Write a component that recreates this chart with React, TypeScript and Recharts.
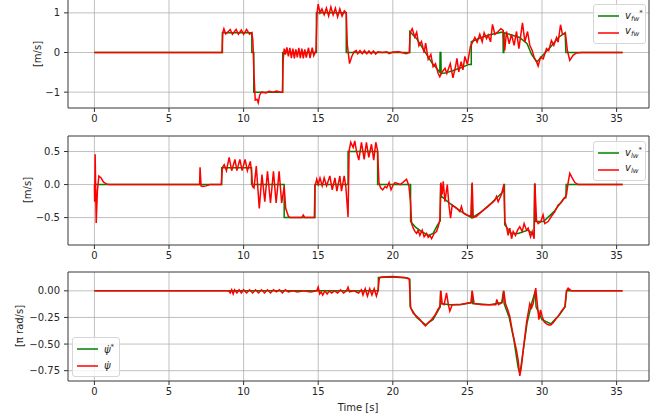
import React from "react";
import {
  CartesianGrid,
  Line,
  LineChart,
  ReferenceArea,
  XAxis,
  YAxis,
} from "recharts";

// time axis
const timeTicks = [0, 5, 10, 15, 20, 25, 30, 35];
const timeLimits: [number, number] = [-1.77, 37.17];

// forward velocity [t, v]
const fwRef: [number, number][] = [
  [0, 0], [8.58, 0], [8.58, 0.5], [10.55, 0.5], [10.55, 0], [10.68, 0], [10.68, -1], [12.62, -1],
  [12.62, 0], [14.88, 0], [14.88, 1], [16.88, 1], [16.88, 0], [21.14, 0], [21.14, 0.53], [21.6, 0.35],
  [22.1, 0.05], [22.6, -0.25], [23.15, -0.5], [23.17, 0], [23.22, 0], [23.24, -0.53], [23.5, -0.52],
  [24.0, -0.46], [24.6, -0.38], [25.1, -0.3], [25.26, -0.3], [25.26, 0.27], [25.8, 0.36], [26.5, 0.45],
  [27.38, 0.52], [27.4, 0], [27.44, 0], [27.46, 0.5], [27.9, 0.45], [28.5, 0.38], [29.0, 0.22],
  [29.3, -0.05], [29.65, -0.24], [30.1, -0.05], [30.6, 0.15], [31.1, 0.38], [31.55, 0.5], [31.6, 0],
  [35.4, 0],
];
const fwAct: [number, number][] = [
  [0, 0], [8.55, 0], [8.6, 0.5], [8.68, 0.6], [8.8, 0.47], [8.95, 0.52], [9.1, 0.58], [9.25, 0.46],
  [9.5, 0.58], [9.65, 0.46], [9.85, 0.57], [10.0, 0.46], [10.2, 0.58], [10.4, 0.46], [10.55, 0.5],
  [10.62, 0.3], [10.7, -0.6], [10.78, -1.2], [10.9, -1.18], [10.98, -1.27], [11.08, -1.07], [11.2, -1.0],
  [11.5, -1.02], [11.7, -0.98], [12.0, -1.0], [12.2, -0.97], [12.5, -1.0], [12.6, -1.0], [12.65, -0.2],
  [12.72, 0.1], [12.8, -0.05], [12.9, 0.13], [13.0, -0.1], [13.1, 0.12], [13.2, -0.14], [13.3, 0.1],
  [13.4, -0.15], [13.5, 0.08], [13.6, -0.12], [13.7, 0.12], [13.8, -0.14], [13.9, 0.1], [14.0, -0.15],
  [14.1, 0.08], [14.2, -0.13], [14.35, 0.12], [14.45, -0.14], [14.6, 0.12], [14.7, -0.08], [14.85, 0.05],
  [14.92, 1.0], [15.0, 1.22], [15.12, 1.0], [15.25, 1.1], [15.4, 0.95], [15.55, 1.12], [15.7, 0.92],
  [15.85, 1.15], [16.0, 0.95], [16.15, 1.12], [16.3, 0.9], [16.45, 1.1], [16.6, 0.92], [16.75, 1.05],
  [16.88, 1.0], [16.95, 0.2], [17.1, -0.28], [17.25, -0.1], [17.4, 0.02], [17.55, 0.05], [17.65, -0.03],
  [17.8, 0.05], [17.95, -0.03], [18.1, 0.05], [18.25, -0.03], [18.4, 0.04], [18.55, -0.03], [18.7, 0.04],
  [18.85, -0.04], [19.0, 0.02], [19.3, 0.0], [19.6, 0.02], [19.75, -0.03], [20.0, 0.01], [20.4, 0.02],
  [20.9, -0.03], [21.1, 0.0], [21.16, 0.5], [21.3, 0.6], [21.47, 0.39], [21.6, 0.51], [21.75, 0.17],
  [21.92, 0.28], [22.1, -0.01], [22.2, 0.24], [22.37, -0.17], [22.55, -0.05], [22.7, -0.36], [22.86, -0.28],
  [23.04, -0.53], [23.15, -0.61], [23.3, -0.49], [23.5, -0.4], [23.62, -0.53], [23.85, -0.28],
  [24.03, -0.64], [24.2, -0.36], [24.3, -0.15], [24.42, -0.49], [24.58, -0.23], [24.7, -0.44],
  [24.83, -0.1], [25.0, -0.3], [25.2, 0.15], [25.5, 0.38], [25.65, 0.26], [25.83, 0.46], [25.99, 0.27],
  [26.12, 0.5], [26.28, 0.35], [26.39, 0.44], [26.55, 0.27], [26.68, 0.71], [26.84, 0.46], [27.06, 0.53],
  [27.24, 0.6], [27.4, 0.56], [27.5, 0.05], [27.62, 0.53], [27.8, 0.22], [27.95, 0.46], [28.13, 0.18],
  [28.29, 0.53], [28.45, 0.1], [28.69, 0.75], [28.85, 0.27], [29.03, 0.53], [29.18, 0.18], [29.34, 0.05],
  [29.47, -0.12], [29.63, -0.23], [29.74, -0.34], [29.9, -0.12], [30.08, -0.16], [30.3, 0.1], [30.45, 0.05],
  [30.63, 0.3], [30.79, 0.18], [30.97, 0.38], [31.08, 0.26], [31.24, 0.7], [31.37, 0.46], [31.57, 0.48],
  [31.7, 0.05], [31.86, -0.2], [32.08, -0.07], [32.3, -0.01], [32.65, 0], [35.4, 0],
];

// lateral velocity [t, v]
const lwRef: [number, number][] = [
  [0, 0], [8.53, 0], [8.53, 0.255], [10.53, 0.255], [10.53, 0], [12.72, 0], [12.72, -0.5], [14.78, -0.5],
  [14.78, 0], [17.0, 0], [17.0, 0.5], [18.98, 0.5], [18.98, 0], [21.19, 0], [21.19, -0.56], [21.5, -0.64],
  [21.9, -0.71], [22.4, -0.77], [22.7, -0.74], [23.0, -0.61], [23.18, -0.55], [23.2, 0], [23.24, 0],
  [23.26, -0.18], [23.8, -0.28], [24.6, -0.41], [25.27, -0.5], [25.29, 0], [25.31, 0], [25.33, -0.5],
  [25.95, -0.41], [26.6, -0.28], [27.3, -0.13], [27.44, -0.08], [27.45, 0], [27.48, 0], [27.5, -0.61],
  [27.95, -0.74], [28.4, -0.74], [29.07, -0.69], [29.47, -0.77], [29.5, 0], [29.53, 0], [29.55, -0.56],
  [30.1, -0.56], [30.8, -0.41], [31.5, -0.2], [31.6, -0.2], [31.62, 0], [35.4, 0],
];
const lwAct: [number, number][] = [
  [0, 0], [0.02, -0.26], [0.05, 0.46], [0.12, -0.58], [0.2, -0.1], [0.3, 0.13], [0.45, 0.1], [0.6, 0.04],
  [0.8, 0.01], [1.0, 0], [7.05, 0], [7.08, 0.26], [7.15, -0.02], [7.25, -0.03], [7.5, -0.02], [7.75, 0],
  [8.5, 0], [8.58, 0.26], [8.7, 0.3], [8.85, 0.21], [9.03, 0.41], [9.2, 0.21], [9.42, 0.38], [9.55, 0.21],
  [9.75, 0.38], [9.9, 0.21], [10.1, 0.38], [10.25, 0.21], [10.45, 0.35], [10.53, 0.2], [10.6, -0.03],
  [10.7, -0.05], [10.85, 0.28], [11.05, -0.36], [11.23, 0.15], [11.42, -0.26], [11.6, 0.2], [11.8, -0.28],
  [12.0, 0.2], [12.18, -0.28], [12.38, 0.2], [12.55, -0.28], [12.72, -0.03], [12.82, -0.36], [13.0, -0.48],
  [13.1, -0.5], [13.9, -0.5], [14.0, -0.46], [14.1, -0.5], [14.74, -0.5], [14.78, -0.03], [14.9, 0.08],
  [15.0, 0.0], [15.12, 0.1], [15.27, -0.02], [15.4, 0.1], [15.56, -0.02], [15.78, 0.13], [15.94, -0.08],
  [16.12, 0.1], [16.25, -0.1], [16.45, 0.13], [16.56, -0.1], [16.74, 0.13], [16.85, -0.03], [17.0, -0.49],
  [17.07, 0.51], [17.18, 0.64], [17.34, 0.56], [17.45, 0.66], [17.56, 0.51], [17.72, 0.37], [17.9, 0.64],
  [18.08, 0.38], [18.23, 0.64], [18.39, 0.41], [18.57, 0.61], [18.72, 0.37], [18.86, 0.64], [18.98, 0.51],
  [19.07, 0.03], [19.18, -0.05], [19.32, -0.08], [19.48, -0.03], [19.59, -0.05], [19.75, 0.03],
  [19.88, -0.08], [20.04, 0.0], [20.15, 0.03], [20.5, 0.0], [20.92, 0.08], [21.08, -0.02], [21.19, -0.28],
  [21.26, -0.59], [21.37, -0.66], [21.48, -0.71], [21.59, -0.74], [21.7, -0.69], [21.81, -0.77],
  [21.97, -0.69], [22.1, -0.79], [22.26, -0.74], [22.37, -0.8], [22.48, -0.77], [22.6, -0.82],
  [22.77, -0.74], [22.93, -0.71], [23.04, -0.64], [23.15, -0.54], [23.22, 0.03], [23.31, -0.15],
  [23.38, 0.05], [23.49, -0.26], [23.65, 0.0], [23.76, -0.31], [23.87, -0.51], [23.98, -0.31],
  [24.27, -0.36], [24.49, -0.41], [24.6, -0.33], [24.72, -0.43], [24.94, -0.46], [25.23, -0.48],
  [25.32, 0.03], [25.39, -0.5], [25.61, -0.48], [25.95, -0.41], [26.39, -0.33], [26.84, -0.24],
  [26.95, -0.18], [27.06, -0.26], [27.28, -0.15], [27.44, 0.0], [27.51, -0.56], [27.62, -0.64],
  [27.73, -0.77], [27.84, -0.66], [27.96, -0.82], [28.07, -0.71], [28.22, -0.77], [28.36, -0.69],
  [28.51, -0.64], [28.67, -0.71], [28.8, -0.59], [28.96, -0.69], [29.07, -0.66], [29.23, -0.79],
  [29.34, -0.71], [29.47, -0.82], [29.52, 0.02], [29.63, -0.54], [29.74, -0.59], [29.92, -0.56],
  [30.07, -0.46], [30.19, -0.59], [30.41, -0.56], [30.63, -0.48], [30.86, -0.41], [31.08, -0.31],
  [31.26, -0.28], [31.41, -0.23], [31.53, -0.2], [31.64, -0.15], [31.75, 0.03], [31.86, 0.17],
  [32.02, 0.1], [32.2, 0.03], [32.42, 0.0], [35.4, 0],
];

// yaw rate [t, pi rad/s]
const yawRef: [number, number][] = [
  [0, 0], [19.03, 0], [19.03, 0.125], [20.0, 0.13], [21.0, 0.12], [21.14, 0.11], [21.16, -0.15],
  [21.6, -0.25], [22.2, -0.32], [22.7, -0.27], [23.18, -0.15], [23.2, 0], [23.24, -0.12], [23.8, -0.13],
  [24.5, -0.13], [25.3, -0.11], [25.32, 0], [25.35, -0.12], [26.5, -0.13], [27.3, -0.11], [27.42, 0],
  [27.46, -0.12], [27.8, -0.25], [28.1, -0.45], [28.4, -0.72], [28.52, -0.78], [28.7, -0.6], [29.0, -0.3],
  [29.3, -0.12], [29.55, 0.0], [29.6, -0.15], [30.0, -0.27], [30.6, -0.31], [31.2, -0.22], [31.55, -0.15],
  [31.65, 0.0], [35.4, 0],
];
const yawAct: [number, number][] = [
  [0, 0], [9.0, 0], [9.1, -0.02], [9.2, 0.01], [9.3, -0.03], [9.4, 0.01], [9.55, -0.02], [9.7, 0.01],
  [9.85, -0.02], [10.0, 0.01], [10.2, -0.02], [10.4, 0.01], [10.6, -0.02], [10.8, 0.01], [11.0, -0.02],
  [11.2, 0.01], [11.4, -0.02], [11.6, 0.01], [11.8, -0.02], [12.0, 0.01], [12.2, -0.01], [12.4, 0.01],
  [12.6, -0.02], [12.8, 0.01], [13.0, -0.01], [13.3, 0.0], [13.6, -0.01], [14.0, 0.0], [14.5, -0.01],
  [14.9, 0.0], [15.0, 0.035], [15.1, -0.03], [15.2, -0.01], [15.3, -0.04], [15.45, 0.0], [15.6, -0.03],
  [15.75, 0.0], [15.9, -0.02], [16.1, 0.0], [16.3, -0.02], [16.5, 0.01], [16.7, -0.02], [16.9, 0.0],
  [17.0, 0.035], [17.1, -0.01], [17.4, 0.0], [17.7, -0.02], [17.9, 0.01], [18.0, -0.04], [18.15, 0.02],
  [18.3, -0.05], [18.45, 0.02], [18.6, -0.04], [18.75, 0.02], [18.9, -0.05], [19.0, 0.0], [19.1, 0.12],
  [19.25, 0.13], [20.0, 0.135], [20.8, 0.125], [21.1, 0.11], [21.2, -0.16], [21.37, -0.21], [21.6, -0.24],
  [21.82, -0.27], [22.04, -0.31], [22.19, -0.33], [22.37, -0.3], [22.6, -0.27], [22.82, -0.23],
  [23.04, -0.17], [23.15, -0.15], [23.22, 0.0], [23.31, -0.12], [23.44, -0.13], [23.6, -0.02],
  [23.71, -0.12], [23.82, -0.19], [23.98, -0.13], [24.6, -0.125], [25.23, -0.11], [25.32, 0.0],
  [25.45, -0.12], [26.0, -0.13], [26.9, -0.13], [26.97, -0.08], [27.08, -0.13], [27.33, -0.11],
  [27.44, 0.0], [27.55, -0.12], [27.73, -0.19], [27.84, -0.24], [28.0, -0.37], [28.18, -0.49],
  [28.29, -0.56], [28.4, -0.65], [28.51, -0.8], [28.62, -0.71], [28.74, -0.56], [28.85, -0.43],
  [28.96, -0.3], [29.07, -0.21], [29.18, -0.12], [29.3, -0.16], [29.41, -0.12], [29.52, -0.02],
  [29.58, 0.025], [29.68, -0.12], [29.79, -0.27], [29.9, -0.18], [30.01, -0.24], [30.14, -0.29],
  [30.3, -0.31], [30.46, -0.32], [30.59, -0.32], [30.75, -0.3], [30.9, -0.27], [31.08, -0.24],
  [31.3, -0.19], [31.53, -0.15], [31.64, 0.0], [31.75, 0.025], [31.97, 0.0], [35.4, 0],
];

const fwTicks = [-1, 0, 1];
const lwTicks = [-0.5, 0, 0.5];
const yawTicks = [-0.75, -0.5, -0.25, 0];

const GREEN = "#008000";
const RED = "#ff0000";
const FONT = "'DejaVu Sans', sans-serif";

const toRows = (pts: [number, number][]) => pts.map(([t, v]) => ({ t, v }));
const minus = (s: string) => s.replace("-", "\u2212");

type PanelProps = {
  top: number;
  refPts: [number, number][];
  actPts: [number, number][];
  domain: [number, number];
  ticks: number[];
  digits: number;
};

function Panel({ top, refPts, actPts, domain, ticks, digits }: PanelProps) {
  const tickStyle = { fontSize: 10, fill: "#262626", fontFamily: FONT };
  return (
    <div style={{ position: "absolute", left: 0, top, width: 665, height: 141 }}>
      <LineChart width={665} height={141} margin={{ top: 10, right: 16, bottom: 0, left: 0 }}>
        <CartesianGrid stroke="#b0b0b0" strokeWidth={0.8} />
        <XAxis
          type="number"
          dataKey="t"
          domain={timeLimits}
          ticks={timeTicks}
          allowDataOverflow
          height={22}
          axisLine={false}
          tickSize={4}
          tickMargin={3}
          tickLine={{ stroke: "#333" }}
          tick={tickStyle}
        />
        <YAxis
          type="number"
          domain={domain}
          ticks={ticks}
          allowDataOverflow
          width={68}
          axisLine={false}
          tickSize={4}
          tickMargin={4}
          tickLine={{ stroke: "#333" }}
          tick={tickStyle}
          tickFormatter={(v: number) => minus(v.toFixed(digits))}
        />
        <Line
          data={toRows(refPts)}
          dataKey="v"
          type="linear"
          stroke={GREEN}
          strokeWidth={1.5}
          dot={false}
          isAnimationActive={false}
        />
        <Line
          data={toRows(actPts)}
          dataKey="v"
          type="linear"
          stroke={RED}
          strokeWidth={1.5}
          dot={false}
          isAnimationActive={false}
        />
        <ReferenceArea
          x1={timeLimits[0]}
          x2={timeLimits[1]}
          y1={domain[0]}
          y2={domain[1]}
          fill="none"
          stroke="#333"
          strokeWidth={0.8}
          ifOverflow="visible"
        />
      </LineChart>
    </div>
  );
}

function YLabel({ x, y, text }: { x: number; y: number; text: string }) {
  return (
    <div
      style={{
        position: "absolute",
        left: x,
        top: y,
        transform: "translate(-50%, -50%) rotate(-90deg)",
        fontSize: 10,
        color: "#262626",
        whiteSpace: "nowrap",
      }}
    >
      {text}
    </div>
  );
}

function LegendBox({
  left,
  top,
  width,
  labels,
}: {
  left: number;
  top: number;
  width: number;
  labels: React.ReactNode[];
}) {
  const colors = [GREEN, RED];
  return (
    <div
      style={{
        position: "absolute",
        left,
        top,
        width,
        padding: "2px 0",
        background: "rgba(255,255,255,0.8)",
        border: "1px solid #d6d6d6",
        borderRadius: 3,
        boxSizing: "border-box",
      }}
    >
      {labels.map((lab, i) => (
        <div key={i} style={{ display: "flex", alignItems: "center", height: 17 }}>
          <svg width={21} height={4} style={{ marginLeft: 4, display: "block" }}>
            <line x1={0} y1={2} x2={21} y2={2} stroke={colors[i]} strokeWidth={1.5} />
          </svg>
          <div style={{ marginLeft: 6, fontSize: 10, color: "#262626", lineHeight: "12px", whiteSpace: "nowrap" }}>
            {lab}
          </div>
        </div>
      ))}
    </div>
  );
}

function Sym({ base, sub, star }: { base: string; sub?: string; star?: boolean }) {
  return (
    <span style={{ fontStyle: "italic" }}>
      {base}
      {sub ? <span style={{ fontSize: 7, verticalAlign: "-2px" }}>{sub}</span> : null}
      {star ? <span style={{ fontSize: 7, fontStyle: "normal", verticalAlign: "4px" }}>*</span> : null}
    </span>
  );
}

export default function App() {
  return (
    <div
      style={{
        position: "absolute",
        left: 0,
        top: 0,
        width: 665,
        height: 417,
        overflow: "hidden",
        background: "#fff",
        fontFamily: FONT,
      }}
    >
      <Panel top={-10.7} refPts={fwRef} actPts={fwAct} domain={[-1.4, 1.35]} ticks={fwTicks} digits={0} />
      <Panel top={126} refPts={lwRef} actPts={lwAct} domain={[-0.915, 0.735]} ticks={lwTicks} digits={1} />
      <Panel top={261.7} refPts={yawRef} actPts={yawAct} domain={[-0.847, 0.177]} ticks={yawTicks} digits={2} />

      <YLabel x={37} y={54} text="[m/s]" />
      <YLabel x={27} y={190} text="[m/s]" />
      <YLabel x={19} y={326} text="[π rad/s]" />
      <div
        style={{
          position: "absolute",
          left: 358,
          top: 407,
          transform: "translate(-50%, -50%)",
          fontSize: 10,
          color: "#262626",
          whiteSpace: "nowrap",
        }}
      >
        Time [s]
      </div>

      <LegendBox
        left={593}
        top={4}
        width={53}
        labels={[<Sym base="v" sub="fw" star />, <Sym base="v" sub="fw" />]}
      />
      <LegendBox
        left={593}
        top={141}
        width={53}
        labels={[<Sym base="v" sub="lw" star />, <Sym base="v" sub="lw" />]}
      />
      <LegendBox
        left={72}
        top={337}
        width={48}
        labels={[<Sym base={"\u03c8\u0307"} star />, <Sym base={"\u03c8\u0307"} />]}
      />
    </div>
  );
}
